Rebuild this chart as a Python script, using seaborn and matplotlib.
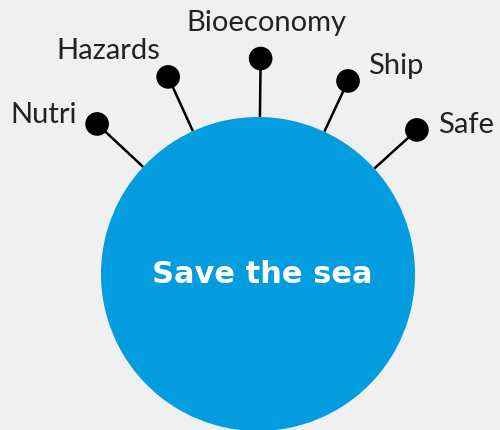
import numpy as np
import pandas as pd
import matplotlib
matplotlib.use("Agg")
import matplotlib.pyplot as plt
from matplotlib.patches import Circle
import seaborn as sns

# ---- data ----
topics = ["Nutri", "Hazards", "Bioeconomy", "Ship", "Safe"]
angles_deg = [137.0, 114.5, 89.3, 65.0, 42.2]     # direction of each spoke
spoke_len = [220.0, 216.6, 215.5, 213.0, 214.5]   # centre-to-dot distance
centre_title = "Save the sea"

# ---- layout ----
W, H = 500, 430
cx, cy, R = 258, 274, 157
label_x = [77, 160, 266, 368, 438]
label_base = [123, 59, 30.7, 74, 133]
label_ha = ["right", "right", "center", "left", "left"]

sns.set_theme(style="white")
plt.rcParams["font.family"] = ["Lato", "DejaVu Sans"]

bg = "#f0f0f0"
fig = plt.figure(figsize=(W / 100, H / 100), dpi=100, facecolor=bg)
ax = fig.add_axes([0, 0, 1, 1])
ax.set_facecolor(bg)
ax.set_xlim(0, W)
ax.set_ylim(H, 0)
ax.axis("off")

rad = np.deg2rad(angles_deg)
df = pd.DataFrame({
    "topic": topics,
    "x": cx + np.array(spoke_len) * np.cos(rad),
    "y": cy - np.array(spoke_len) * np.sin(rad),
    "x0": cx + R * np.cos(rad),
    "y0": cy - R * np.sin(rad),
})

for _, r in df.iterrows():
    ax.plot([r.x0, r.x], [r.y0, r.y], color="black", lw=1.8, zorder=1,
            solid_capstyle="butt")

ax.add_patch(Circle((cx, cy), R, facecolor="#039ddf", edgecolor="none", zorder=2))

sns.scatterplot(data=df, x="x", y="y", ax=ax, color="black", s=290,
                edgecolor="none", zorder=3, legend=False)

for t, lx, ly, ha in zip(topics, label_x, label_base, label_ha):
    ax.text(lx, ly, t, ha=ha, va="baseline", fontsize=21, color="#222222")

ax.text(262, 283, centre_title, ha="center", va="baseline", fontsize=22,
        fontweight="bold", color="white", zorder=4, family="DejaVu Sans")

ax.set_xlim(0, W)
ax.set_ylim(H, 0)
fig.savefig("out.png", dpi=100, facecolor=bg)
